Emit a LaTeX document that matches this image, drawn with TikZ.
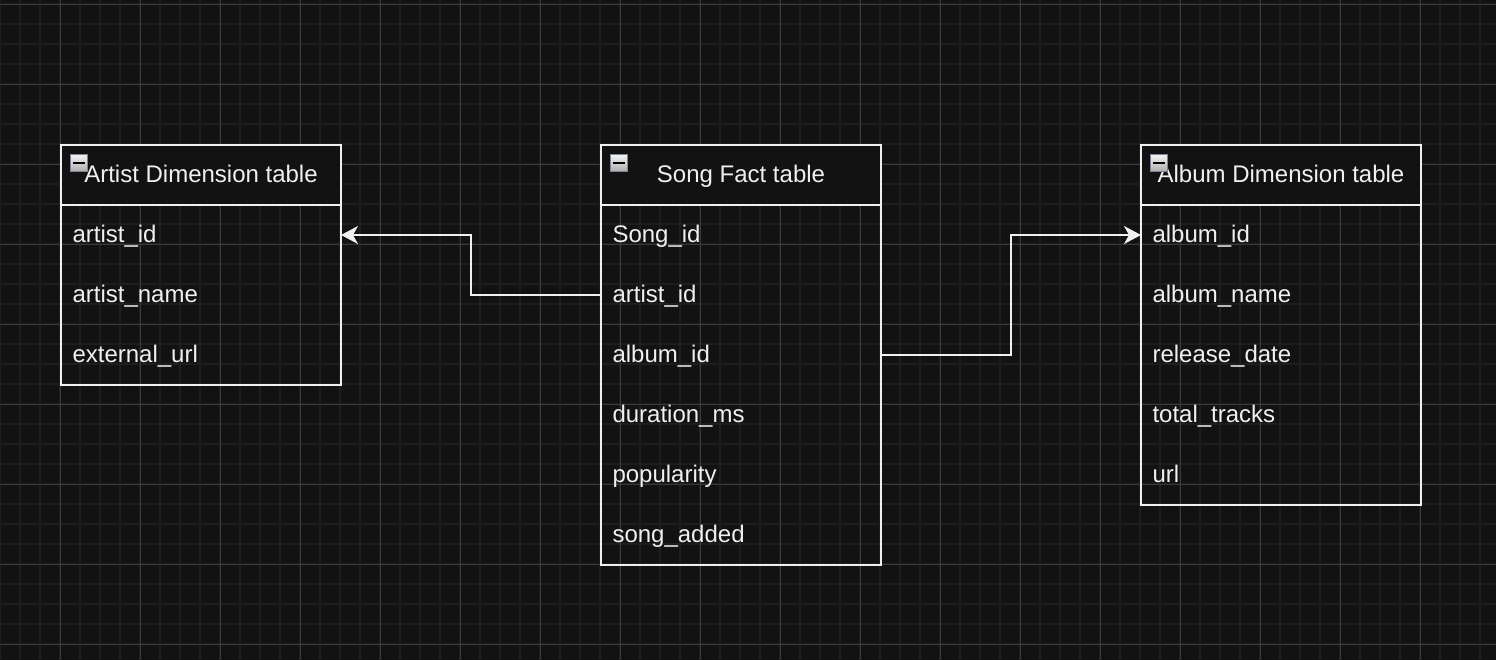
\documentclass[tikz,border=0pt]{standalone}
\usepackage{fontspec}
\setmainfont{Liberation Sans}
\usetikzlibrary{arrows.meta}
\definecolor{bg}{HTML}{121212}
\definecolor{gridminor}{HTML}{1E1E1E}
\definecolor{gridmajor}{HTML}{3A3A3A}
\definecolor{fg}{HTML}{F0F0F0}
\definecolor{iconborder}{HTML}{7D8596}
\tikzset{
  tbl/.style={draw=fg, line width=1pt, inner sep=0pt, outer sep=0pt, anchor=north west, minimum width=140pt},
  head/.style={tbl, fill=bg, minimum height=30pt, text=fg, text height=9pt, text depth=1.5pt, align=center},
  row/.style={inner sep=0pt, outer sep=0pt, inner xsep=5.75pt, anchor=north west, minimum width=140pt, minimum height=30pt, text width=128.5pt, align=left, text=fg, text height=9pt, text depth=1.5pt},
  icon/.style={draw=iconborder, line width=0.9pt, top color=white!92!gray, bottom color=gray!65, minimum size=8.5pt, inner sep=0pt, outer sep=0pt,
    path picture={\draw[black, line width=1.1pt] ([xshift=-3pt]path picture bounding box.center) -- ([xshift=3pt]path picture bounding box.center);}},
  conn/.style={draw=fg, line width=1pt, -{Stealth[length=8.5pt, width=9pt, inset=2.5pt]}},
  minorline/.style={draw=gridminor, line width=1pt},
  majorline/.style={draw=gridmajor, line width=0.5pt}
}
\begin{document}
\begin{tikzpicture}[x=0.5pt, y=-0.5pt, font=\fontsize{12pt}{14pt}\selectfont]
\fill[bg] (0,0) rectangle (1496,660);
\useasboundingbox (0,0) rectangle (1496,660);
% grid
\foreach \x in {0,20,...,1480} \draw[minorline] (\x,0) -- (\x,660);
\foreach \y in {4,24,...,644} \draw[minorline] (0,\y) -- (1496,\y);
\foreach \x in {60,140,...,1460} \draw[majorline] (\x,0) -- (\x,660);
\foreach \y in {4,84,...,644} \draw[majorline] (0,\y) -- (1496,\y);

% Artist table
\foreach \t [count=\i] in {artist\_id, artist\_name, external\_url}
  \node[row] (a\i) at (61,{145+60*\i}) {\t};
\node[tbl, minimum height=120pt] (artist) at (61,145) {};
\node[head] (artisthead) at (61,145) {Artist Dimension table};
\node[icon] (artisticon) at (79,163) {};

% Song table
\foreach \t [count=\i] in {Song\_id, artist\_id, album\_id, duration\_ms, popularity, song\_added}
  \node[row] (s\i) at (601,{145+60*\i}) {\t};
\node[tbl, minimum height=210pt] (song) at (601,145) {};
\node[head] (songhead) at (601,145) {Song Fact table};
\node[icon] (songicon) at (619,163) {};

% Album table
\foreach \t [count=\i] in {album\_id, album\_name, release\_date, total\_tracks, url}
  \node[row] (b\i) at (1141,{145+60*\i}) {\t};
\node[tbl, minimum height=180pt] (album) at (1141,145) {};
\node[head] (albumhead) at (1141,145) {Album Dimension table};
\node[icon] (albumicon) at (1159,163) {};

% connectors
\draw[conn] (s2.west) -- ++(-130,0) |- (a1.east);
\draw[conn] (s3.east) -- ++(130,0) |- (b1.west);
\end{tikzpicture}
\end{document}
